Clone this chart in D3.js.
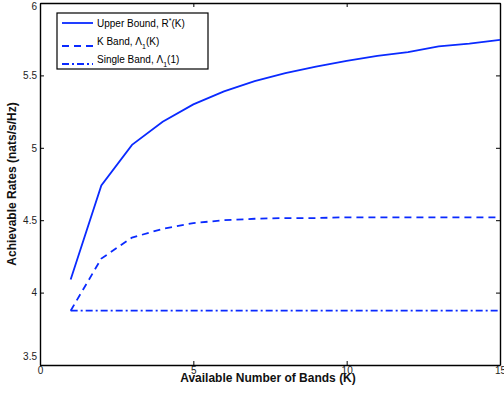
<!DOCTYPE html>
<html>
<head>
<meta charset="utf-8">
<script src="https://cdn.jsdelivr.net/npm/d3@7"></script>
<style>
  html, body { margin: 0; padding: 0; background: #fff; overflow: hidden; }
  svg { display: block; font-family: "Liberation Sans", Arial, sans-serif; }
</style>
</head>
<body>
<svg id="canvas"></svg>
<script>
const bands = [1, 2, 3, 4, 5, 6, 7, 8, 9, 10, 11, 12, 13, 14, 15];
const upperBound = [4.09, 4.74, 5.02, 5.18, 5.30, 5.39, 5.46, 5.515, 5.56, 5.60, 5.635, 5.66, 5.70, 5.72, 5.745];
const kBand = [3.875, 4.235, 4.38, 4.44, 4.48, 4.50, 4.51, 4.515, 4.515, 4.52, 4.52, 4.52, 4.52, 4.52, 4.52];
const singleBand = [3.875, 3.875, 3.875, 3.875, 3.875, 3.875, 3.875, 3.875, 3.875, 3.875, 3.875, 3.875, 3.875, 3.875, 3.875];
const xTicks = [0, 5, 10, 15];
const yTicks = [3.5, 4, 4.5, 5, 5.5, 6];

const width = 504;
const height = 400;
const margin = { top: 3, right: 4, bottom: 35, left: 40 };
const innerWidth = width - margin.left - margin.right;
const innerHeight = height - margin.top - margin.bottom;

const svg = d3.select("#canvas").attr("width", width).attr("height", height);

const xScale = d3.scaleLinear().domain([0, 15]).range([0, innerWidth]);
const yScale = d3.scaleLinear().domain([3.5, 6]).range([innerHeight, 0]);

const mainGroup = svg.append("g").attr("transform", `translate(${margin.left}, ${margin.top})`);

// axes with inward ticks, box style
const xAxis = d3.axisBottom(xScale).tickValues(xTicks).tickSize(-4).tickSizeOuter(0).tickPadding(2).tickFormat(d => d);
const yAxis = d3.axisLeft(yScale).tickValues(yTicks).tickSize(-4).tickSizeOuter(0).tickPadding(3).tickFormat(d => d);
const xTop = d3.axisTop(xScale).tickValues(xTicks).tickSize(-4).tickSizeOuter(0).tickFormat("");
const yRight = d3.axisRight(yScale).tickValues(yTicks).tickSize(-4).tickSizeOuter(0).tickFormat("");

const styleAxis = g => {
    g.select(".domain").attr("stroke", "#000").attr("stroke-width", 1.4);
    g.selectAll(".tick line").attr("stroke", "#000");
    g.selectAll("text").attr("fill", "#222").style("font-size", "10px").style("font-family", "'Liberation Sans', Arial, sans-serif");
};

mainGroup.append("g").attr("transform", `translate(0, ${innerHeight})`).call(xAxis).call(styleAxis);
mainGroup.append("g").call(yAxis).call(styleAxis)
    .call(g => {
        g.selectAll(".tick text").filter(d => d === 3.5).attr("dy", "-0.6em");
        g.selectAll(".tick text").filter(d => d === 6).attr("dy", "0.6em");
    });
mainGroup.append("g").call(xTop).call(styleAxis);
mainGroup.append("g").attr("transform", `translate(${innerWidth}, 0)`).call(yRight).call(styleAxis);

// axis labels
svg.append("text")
    .attr("x", margin.left + innerWidth / 2 - 2)
    .attr("y", 382)
    .attr("text-anchor", "middle")
    .style("font-size", "12px")
    .style("font-weight", "bold")
    .attr("fill", "#111")
    .text("Available Number of Bands (K)");

svg.append("text")
    .attr("transform", `translate(16, ${margin.top + innerHeight / 2}) rotate(-90)`)
    .attr("text-anchor", "middle")
    .style("font-size", "12px")
    .style("font-weight", "bold")
    .attr("fill", "#111")
    .text("Achievable Rates (nats/s/Hz)");

// lines
const blue = "#0a2aff";
const series = [
    { name: "upper", values: upperBound, dash: null },
    { name: "kband", values: kBand, dash: "7,5" },
    { name: "single", values: singleBand, dash: "7,3,2,3" }
];

const line = d3.line().x((d, i) => xScale(bands[i])).y(d => yScale(d));

mainGroup.selectAll("path.series")
    .data(series)
    .join("path")
    .classed("series", true)
    .attr("d", d => line(d.values))
    .attr("fill", "none")
    .attr("stroke", blue)
    .attr("stroke-width", 1.8)
    .attr("stroke-dasharray", d => d.dash);

// legend
const legend = svg.append("g").attr("transform", "translate(57, 13)");
legend.append("rect")
    .attr("width", 151)
    .attr("height", 56)
    .attr("fill", "#fff")
    .attr("stroke", "#000")
    .attr("stroke-width", 1.2);

const legendRows = [
    { dash: null, y: 10, label: ["Upper Bound, R", "*", "(K)"], sup: true },
    { dash: "7,5", y: 28, label: ["K Band, \u039B", "1", "(K)"], sup: false },
    { dash: "7,3,2,3", y: 46, label: ["Single Band, \u039B", "1", "(1)"], sup: false }
];

legendRows.forEach(r => {
    const lineY = r.sup ? r.y : r.y + 5;
    legend.append("line")
        .attr("x1", 5).attr("x2", 36)
        .attr("y1", lineY).attr("y2", lineY)
        .attr("stroke", blue)
        .attr("stroke-width", 1.8)
        .attr("stroke-dasharray", r.dash);
    const t = legend.append("text")
        .attr("x", 40)
        .attr("y", r.y + 4)
        .style("font-size", "10px")
        .attr("fill", "#000");
    t.append("tspan").text(r.label[0]);
    t.append("tspan")
        .attr("dy", r.sup ? -4 : 4)
        .style("font-size", "7px")
        .text(r.label[1]);
    t.append("tspan")
        .attr("dy", r.sup ? 4 : -4)
        .text(r.label[2]);
});
</script>
</body>
</html>
